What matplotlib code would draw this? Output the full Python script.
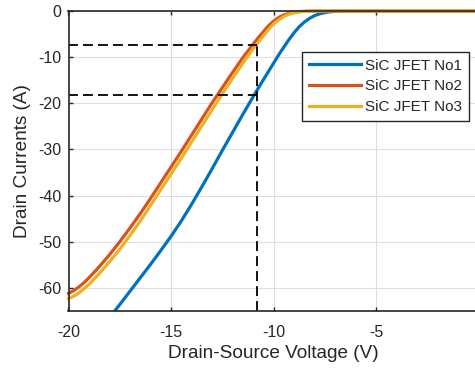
import matplotlib
matplotlib.use("Agg")
import matplotlib.pyplot as plt

plt.rcParams["font.family"] = ["Liberation Sans", "DejaVu Sans"]
plt.rcParams["axes.unicode_minus"] = False

# Drain-source voltage (V) and drain current (A)
v_no1 = [-18, -17.5, -17, -16.5, -16, -15.5, -15, -14.5, -14, -13.5, -13,
         -12.5, -12, -11.5, -11, -10.5, -10, -9.75, -9.5, -9.25, -9, -8.75,
         -8.5, -8.25, -8, -7.75, -7.5, -7.25, -7, -6.5, -6, 0]
i_no1 = [-66.4, -63.6, -60.7, -57.8, -54.9, -51.9, -48.8, -45.5, -41.9, -38.1,
         -34.2, -30.2, -26.3, -22.4, -18.6, -14.9, -11.3, -9.5, -7.8, -6.2,
         -4.7, -3.4, -2.4, -1.6, -1.0, -0.6, -0.35, -0.18, -0.08, -0.01, 0, 0]

v_no23 = [-20, -19.75, -19.5, -19.25, -19, -18.5, -18, -17.5, -17, -16.5, -16,
          -15.5, -15, -14.5, -14, -13.5, -13, -12.5, -12, -11.5, -11, -10.75,
          -10.5, -10.25, -10, -9.75, -9.5, -9.25, -9, -8.75, -8.5, -8, -7.5, 0]
i_no2 = [-61.2, -60.6, -59.8, -58.9, -57.8, -55.4, -52.8, -50.0, -47.0, -43.9,
         -40.6, -37.2, -33.8, -30.4, -26.9, -23.4, -19.9, -16.6, -13.3, -10.1,
         -7.2, -5.8, -4.5, -3.2, -2.2, -1.4, -0.85, -0.5, -0.27, -0.13, -0.06,
         -0.01, 0, 0]
i_no3 = [-62.3, -61.8, -61.1, -60.2, -59.2, -56.9, -54.3, -51.6, -48.6, -45.5,
         -42.1, -38.7, -35.3, -31.9, -28.4, -24.9, -21.4, -17.9, -14.6, -11.3,
         -8.2, -6.8, -5.4, -4.0, -2.8, -1.9, -1.2, -0.7, -0.4, -0.2, -0.1,
         -0.02, 0, 0]

labels = ["SiC JFET No1", "SiC JFET No2", "SiC JFET No3"]
colors = ["#0072BD", "#D95319", "#EDB120"]

# dashed reference markers
ref_v = -10.8
ref_i = [-7.3, -18.2]

fig = plt.figure(figsize=(4.75, 3.69), dpi=100)
ax = fig.add_axes([68.5 / 475, 1 - 311 / 369, 410.2 / 475, 300 / 369])

ax.plot(v_no1, i_no1, color=colors[0], lw=2.3, label=labels[0])
ax.plot(v_no23, i_no2, color=colors[1], lw=2.3, label=labels[1], clip_on=False)
ax.plot(v_no23, i_no3, color=colors[2], lw=2.3, label=labels[2], clip_on=False)

for yi in ref_i:
    ax.plot([-20, ref_v], [yi, yi], color="black", lw=1.3, dashes=(5.5, 2.8))
ax.plot([ref_v, ref_v], [-65, max(ref_i)], color="black", lw=1.3, dashes=(5.5, 2.8))

ax.set_xlim(-20, 0)
ax.set_ylim(-65, 0)
ax.set_xticks([-20, -15, -10, -5, 0])
ax.set_yticks([-60, -50, -40, -30, -20, -10, 0])
ax.grid(True, color="#dedede", lw=0.8)
ax.set_axisbelow(True)

for s in ax.spines.values():
    s.set_color("#262626")
    s.set_linewidth(1.2)
ax.tick_params(direction="in", length=3, width=1, color="#262626",
               labelsize=11.5, labelcolor="#262626", top=True, right=True)
ax.tick_params(axis="x", pad=10)
ax.tick_params(axis="y", pad=5)

ax.set_xlabel("Drain-Source Voltage (V)", fontsize=13.7, color="#262626", labelpad=4)
ax.set_ylabel("Drain Currents (A)", fontsize=13.7, color="#262626", labelpad=5)

leg = ax.legend(loc="upper right", bbox_to_anchor=(469.3 / 475, 1 - 51.7 / 369),
                bbox_transform=fig.transFigure, borderaxespad=0, fontsize=11,
                fancybox=False, framealpha=1, edgecolor="#262626",
                handlelength=3.4, handletextpad=0.3, labelspacing=0.45,
                borderpad=0.45)
leg.get_frame().set_linewidth(1.0)
for t in leg.get_texts():
    t.set_color("#262626")

fig.savefig("out.png", dpi=100)
